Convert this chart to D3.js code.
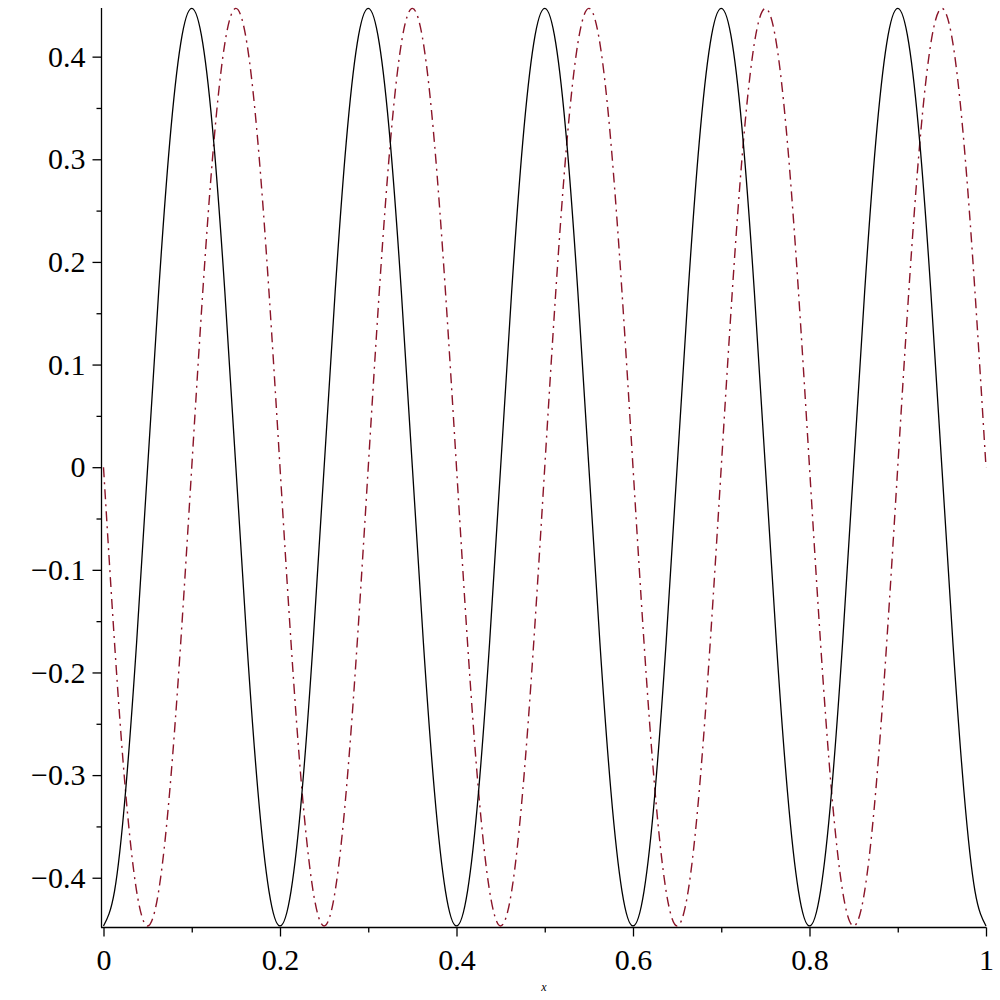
<!DOCTYPE html>
<html>
<head>
<meta charset="utf-8">
<script src="https://cdn.jsdelivr.net/npm/d3@7"></script>
<style>
  html, body { margin: 0; padding: 0; background: #fff; }
  svg { display: block; }
</style>
</head>
<body>
<svg id="chart" width="1000" height="1000"></svg>
<script>
// sample positions along x (step 0.0125)
const xValues = d3.range(0, 81).map(i => +(i * 0.0125).toFixed(4));

// black solid curve values
const seriesBlack = [
  -0.447,-0.413,-0.316,-0.171,0,0.171,0.316,0.413,0.447,0.413,0.316,0.171,0,-0.171,-0.316,-0.413,
  -0.447,-0.413,-0.316,-0.171,0,0.171,0.316,0.413,0.447,0.413,0.316,0.171,0,-0.171,-0.316,-0.413,
  -0.447,-0.413,-0.316,-0.171,0,0.171,0.316,0.413,0.447,0.413,0.316,0.171,0,-0.171,-0.316,-0.413,
  -0.447,-0.413,-0.316,-0.171,0,0.171,0.316,0.413,0.447,0.413,0.316,0.171,0,-0.171,-0.316,-0.413,
  -0.447,-0.413,-0.316,-0.171,0,0.171,0.316,0.413,0.447,0.413,0.316,0.171,0,-0.171,-0.316,-0.413,
  -0.447
];

// dark red dash-dot curve values
const seriesRed = [
  0,-0.171,-0.316,-0.413,-0.447,-0.413,-0.316,-0.171,0,0.171,0.316,0.413,0.447,0.413,0.316,0.171,
  0,-0.171,-0.316,-0.413,-0.447,-0.413,-0.316,-0.171,0,0.171,0.316,0.413,0.447,0.413,0.316,0.171,
  0,-0.171,-0.316,-0.413,-0.447,-0.413,-0.316,-0.171,0,0.171,0.316,0.413,0.447,0.413,0.316,0.171,
  0,-0.171,-0.316,-0.413,-0.447,-0.413,-0.316,-0.171,0,0.171,0.316,0.413,0.447,0.413,0.316,0.171,
  0,-0.171,-0.316,-0.413,-0.447,-0.413,-0.316,-0.171,0,0.171,0.316,0.413,0.447,0.413,0.316,0.171,
  0
];

const xTicksMajor = [0, 0.2, 0.4, 0.6, 0.8, 1];
const xTicksMinor = [0.1, 0.3, 0.5, 0.7, 0.9];
const yTicksMajor = [-0.4, -0.3, -0.2, -0.1, 0, 0.1, 0.2, 0.3, 0.4];
const yTicksMinor = [-0.35, -0.25, -0.15, -0.05, 0.05, 0.15, 0.25, 0.35];
const xAxisTitle = "x";

const svg = d3.select("#chart");
const fontFamily = "'Liberation Serif', 'DejaVu Serif', serif";

const x = d3.scaleLinear().domain([0, 1]).range([103.5, 986]);
const y = d3.scaleLinear().domain([-0.448, 0.4474]).range([927, 8]);

const fmt = v => {
  if (Math.abs(v) < 1e-9) return "0";
  const s = Math.abs(v) === 1 ? "1" : String(+Math.abs(v).toFixed(2));
  return (v < 0 ? "\u2212" : "") + s;
};

// axis lines
svg.append("line").attr("x1", 101.5).attr("x2", 101.5).attr("y1", 8).attr("y2", 927.5)
  .attr("stroke", "#000").attr("stroke-width", 1.3);
svg.append("line").attr("x1", 101).attr("x2", 986.5).attr("y1", 927.5).attr("y2", 927.5)
  .attr("stroke", "#000").attr("stroke-width", 1.3);

// y axis
const gy = svg.append("g").attr("transform", "translate(101.5,0)");
gy.call(d3.axisLeft(y).tickValues(yTicksMajor).tickSize(9).tickPadding(7).tickFormat(fmt));
const gyMinor = svg.append("g").attr("transform", "translate(101.5,0)");
gyMinor.call(d3.axisLeft(y).tickValues(yTicksMinor).tickSize(5).tickFormat(""));

// x axis
const gx = svg.append("g").attr("transform", "translate(0,927.5)");
gx.call(d3.axisBottom(x).tickValues(xTicksMajor).tickSize(9).tickPadding(12).tickFormat(fmt));
const gxMinor = svg.append("g").attr("transform", "translate(0,927.5)");
gxMinor.call(d3.axisBottom(x).tickValues(xTicksMinor).tickSize(5).tickFormat(""));

svg.selectAll(".domain").remove();
svg.selectAll(".tick line").attr("stroke", "#000").attr("stroke-width", 1.3);
svg.selectAll(".tick text")
  .attr("font-family", fontFamily)
  .attr("font-size", 30)
  .attr("fill", "#000");

// x axis title
svg.append("text")
  .attr("x", 544).attr("y", 991)
  .attr("text-anchor", "middle")
  .attr("font-family", fontFamily)
  .attr("font-style", "italic")
  .attr("font-size", 12)
  .text(xAxisTitle);

const line = d3.line()
  .x((d, i) => x(xValues[i]))
  .y(d => y(d))
  .curve(d3.curveNatural);

const clip = svg.append("clipPath").attr("id", "plotclip")
  .append("rect").attr("x", 101).attr("y", 6).attr("width", 888).attr("height", 922);

svg.append("path")
  .datum(seriesRed)
  .attr("clip-path", "url(#plotclip)")
  .attr("d", line)
  .attr("fill", "none")
  .attr("stroke", "#8a1428")
  .attr("stroke-width", 1.4)
  .attr("stroke-dasharray", "10,5,2,5");

svg.append("path")
  .datum(seriesBlack)
  .attr("clip-path", "url(#plotclip)")
  .attr("d", line)
  .attr("fill", "none")
  .attr("stroke", "#000")
  .attr("stroke-width", 1.3);
</script>
</body>
</html>
